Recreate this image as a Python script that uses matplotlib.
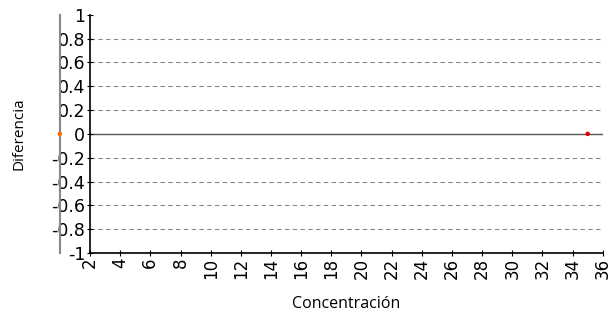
import matplotlib
matplotlib.use("Agg")
import matplotlib.pyplot as plt

# datos
concentracion = [0, 35]
diferencia = [0, 0]
colores = ["#ff6a00", "#e00000"]
x_ticks = list(range(2, 37, 2))
y_ticks = [-1, -0.8, -0.6, -0.4, -0.2, 0, 0.2, 0.4, 0.6, 0.8, 1]
y_labels = ["-1", "-0.8", "-0.6", "-0.4", "-0.2", "0", "0.2", "0.4", "0.6", "0.8", "1"]

fig = plt.figure(figsize=(6.09, 3.15), dpi=100)
ax = fig.add_axes([0.1478, 0.197, 0.842, 0.756])

ax.set_xlim(2, 36)
ax.set_ylim(-1, 1)

for y in y_ticks:
    if y == 0:
        ax.axhline(y, color="#555555", lw=1.0, zorder=1)
    elif y not in (-1, 1):
        ax.axhline(y, color="#888888", lw=0.8, ls=(0, (4, 3)), zorder=1)

# eje gris en x=0, fuera del area
ax.plot([0, 0], [-1, 1], color="#888888", lw=1.5, clip_on=False, zorder=2)

ax.scatter(concentracion, diferencia, c=colores, s=5, clip_on=False, zorder=3)

for s in ["top", "right"]:
    ax.spines[s].set_visible(False)
ax.spines["left"].set_linewidth(1.2)
ax.spines["bottom"].set_linewidth(1.2)

ax.set_xticks(x_ticks)
ax.set_xticklabels([str(t) for t in x_ticks], rotation=90, fontsize=12,
                   fontfamily="DejaVu Sans")
ax.set_yticks(y_ticks)
ax.set_yticklabels(y_labels, fontsize=12.5, fontfamily="DejaVu Sans")
ax.tick_params(axis="both", direction="inout", length=5, width=0.8, pad=1)

ax.set_xlabel("Concentración", fontsize=11.5, fontfamily="Open Sans", labelpad=12)
ax.set_ylabel("Diferencia", fontsize=11, fontfamily="Open Sans", labelpad=18)

fig.savefig("out.png", dpi=100)
